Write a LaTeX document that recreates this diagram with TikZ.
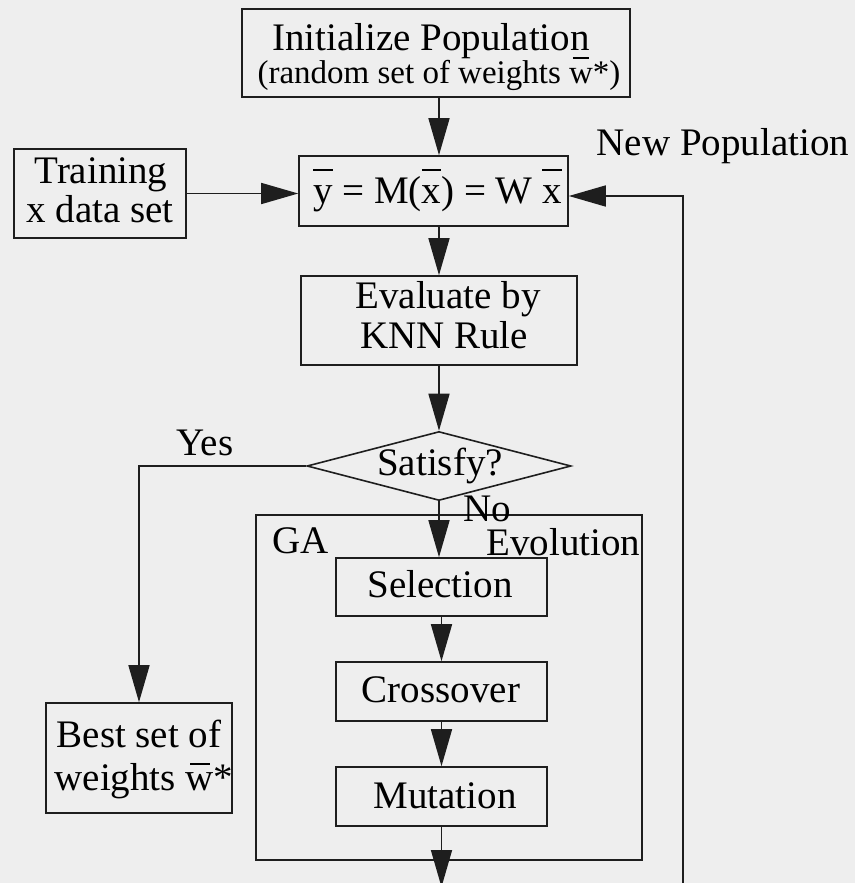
\documentclass[tikz,border=0pt]{standalone}
\usepackage{fontspec}
\setmainfont{Liberation Serif}
\usetikzlibrary{arrows.meta,shapes.geometric}
\definecolor{bgc}{RGB}{238,238,238}
\definecolor{lnc}{RGB}{30,30,30}
\newcommand\obar[2][0.78em]{\setbox0\hbox{#2}\rlap{\hbox to \wd0{\hss\raisebox{#1}{\rule{0.5em}{0.05em}}\hss}}\box0\relax}
\newcommand\fbig{\fontsize{39}{40}\selectfont}
\newcommand\fsmall{\fontsize{33}{34}\selectfont}
\tikzset{
  box/.style={draw=lnc, line width=1.6pt, rectangle, inner sep=0pt},
  txt/.style={anchor=base, inner sep=0pt, font=\fbig, text=black},
  arr/.style={draw=lnc, line width=1.6pt, -{Triangle[length=37pt,width=21pt]}},
  ln/.style={draw=lnc, line width=1.6pt}
}
\begin{document}
\begin{tikzpicture}[x=1pt,y=-1pt]
\fill[bgc] (0,0) rectangle (855,883);
\useasboundingbox (0,0) rectangle (855,883);
\clip (0,0) rectangle (855,883);
% boxes
\node[box, minimum width=388pt, minimum height=88pt] (init) at (436,53) {};
\node[box, minimum width=172pt, minimum height=89pt] (train) at (100,193.5) {};
\node[box, minimum width=269pt, minimum height=70pt] (eq) at (433.5,191) {};
\node[box, minimum width=276pt, minimum height=89pt] (eval) at (439,320.5) {};
\node[draw=lnc, line width=1.6pt, diamond, inner sep=0pt, minimum width=264pt, minimum height=69pt] (sat) at (439,466) {};
\node[box, minimum width=386pt, minimum height=345pt] (ga) at (449,687.5) {};
\node[box, minimum width=211pt, minimum height=58pt] (sel) at (441.5,587) {};
\node[box, minimum width=211pt, minimum height=59pt] (cross) at (441.5,691.5) {};
\node[box, minimum width=211pt, minimum height=59pt] (mut) at (441.5,796.5) {};
\node[box, minimum width=186pt, minimum height=110pt] (best) at (139,758) {};
% texts
\node[txt] (t-init1) at (431,51) {Initialize Population};
\node[txt, font=\fsmall] (t-init2) at (439,84) {(random set of weights \obar[0.76em]{w}*)};
\node[txt] (t-newpop) at (723,155) {New Population};
\node[txt] (t-train1) at (101,183) {Training};
\node[txt] (t-train2) at (100,222) {x data set};
\node[txt] (t-eq) at (437.5,203) {\obar[0.82em]{y} = M(\obar[0.82em]{x}) = W \obar[0.82em]{x}};
\node[txt] (t-eval1) at (448,308) {Evaluate by};
\node[txt] (t-eval2) at (444,348) {KNN Rule};
\node[txt] (t-sat) at (440,475) {Satisfy?};
\node[txt] (t-yes) at (205,455) {Yes};
\node[txt] (t-no) at (487,521) {No};
\node[txt] (t-ga) at (301,553) {GA};
\node[txt] (t-evo) at (563.5,555) {Evolution};
\node[txt] (t-sel) at (440,597) {Selection};
\node[txt] (t-cross) at (441,702) {Crossover};
\node[txt] (t-mut) at (445,808) {Mutation};
\node[txt] (t-best1) at (139,747) {Best set of};
\node[txt] (t-best2) at (144,790) {weights \obar[0.64em]{w}*};
% connectors
\coordinate (fbB) at (683,900);
\coordinate (fbT) at (683,196);
\coordinate (outB) at (441.5,887);
\draw[arr] (init.south -| sat.north) -- (eq.north -| sat.north);
\draw[arr] (train.east) -- (train.east -| eq.west);
\draw[arr] (fbB) -- (fbT) -- (fbT -| eq.east);
\draw[arr] (eq.south -| sat.north) -- (eval.north -| sat.north);
\draw[arr] (eval.south -| sat.north) -- (sat.north);
\draw[arr] (sat.west) -| (best.north);
\draw[arr] (sat.south) -- (sel.north -| sat.south);
\draw[arr] (sel.south) -- (cross.north);
\draw[arr] (cross.south) -- (mut.north);
\draw[arr] (mut.south) -- (outB);
\end{tikzpicture}
\end{document}
